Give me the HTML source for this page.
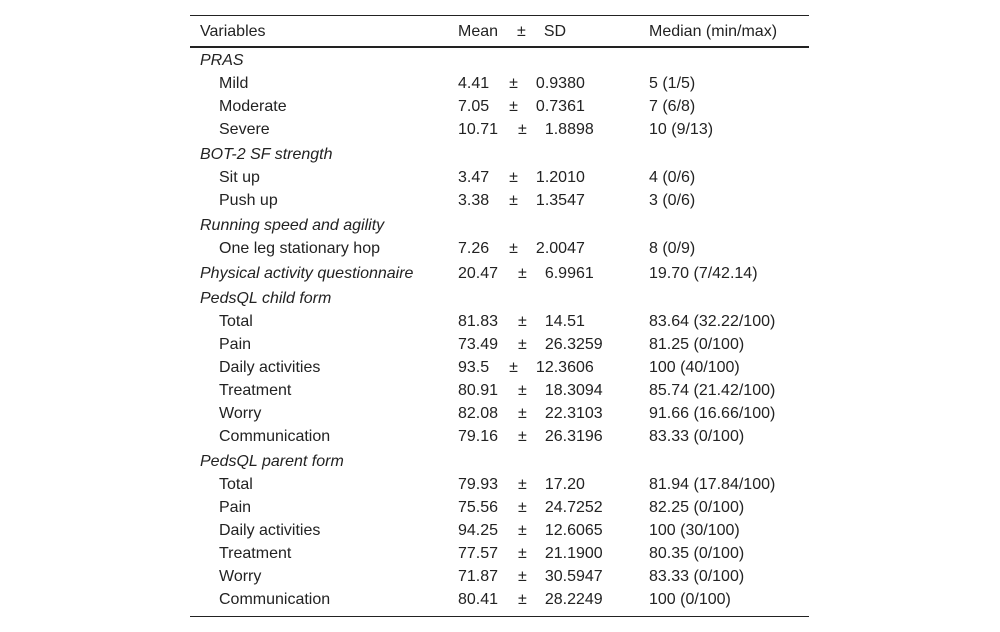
<!DOCTYPE html>
<html><head><meta charset="utf-8">
<style>
body{margin:0;width:1000px;height:632px;background:#fff;font-family:"Liberation Sans",sans-serif;font-size:16px;color:#222;position:relative;overflow:hidden}
.line{position:absolute;left:190px;width:619px;background:#222}
.r{position:absolute;left:0;width:1000px;height:20px;line-height:20px}
.r>span{position:absolute;white-space:nowrap}
.v{left:200px}.vi{left:219px}
.sec{font-style:italic}
.m{left:458px}
.md{left:649px}
.pm{margin-left:20px}.sd{margin-left:18px}
</style></head><body>
<div class="line" style="top:15px;height:1px"></div>
<div class="line" style="top:46px;height:2px"></div>
<div class="line" style="top:616px;height:1px"></div>
<div class="r" style="top:22px">
<span class="v">Variables</span><span class="m">Mean<span class="pm" style="margin-left:19px">±</span><span class="sd" style="margin-left:18px">SD</span></span><span class="md">Median (min/max)</span></div>
<div id="body"></div>
<script>
const rows=[
["s","PRAS",51],
["d","Mild",74,"4.41","0.9380","5 (1/5)"],
["d","Moderate",97,"7.05","0.7361","7 (6/8)"],
["d","Severe",120,"10.71","1.8898","10 (9/13)"],
["s","BOT-2 SF strength",145],
["d","Sit up",168,"3.47","1.2010","4 (0/6)"],
["d","Push up",191,"3.38","1.3547","3 (0/6)"],
["s","Running speed and agility",216],
["d","One leg stationary hop",239,"7.26","2.0047","8 (0/9)"],
["p","Physical activity questionnaire",264,"20.47","6.9961","19.70 (7/42.14)"],
["s","PedsQL child form",289],
["d","Total",312,"81.83","14.51","83.64 (32.22/100)"],
["d","Pain",335,"73.49","26.3259","81.25 (0/100)"],
["d","Daily activities",358,"93.5","12.3606","100 (40/100)"],
["d","Treatment",381,"80.91","18.3094","85.74 (21.42/100)"],
["d","Worry",404,"82.08","22.3103","91.66 (16.66/100)"],
["d","Communication",427,"79.16","26.3196","83.33 (0/100)"],
["s","PedsQL parent form",452],
["d","Total",475,"79.93","17.20","81.94 (17.84/100)"],
["d","Pain",498,"75.56","24.7252","82.25 (0/100)"],
["d","Daily activities",521,"94.25","12.6065","100 (30/100)"],
["d","Treatment",544,"77.57","21.1900","80.35 (0/100)"],
["d","Worry",567,"71.87","30.5947","83.33 (0/100)"],
["d","Communication",590,"80.41","28.2249","100 (0/100)"]
];
const b=document.getElementById('body');
rows.forEach(r=>{
const d=document.createElement('div');
d.className='r';
d.style.top=r[2]+'px';


if(r[0]==='s'){d.innerHTML='<span class="v sec">'+r[1]+'</span>';}
else{
const lab=r[0]==='p'?'<span class="v sec">'+r[1]+'</span>':'<span class="vi">'+r[1]+'</span>';
d.innerHTML=lab+'<span class="m">'+r[3]+'<span class="pm">±</span><span class="sd">'+r[4]+'</span></span><span class="md">'+r[5]+'</span>';
}
b.appendChild(d);
});
</script>
</body></html>
